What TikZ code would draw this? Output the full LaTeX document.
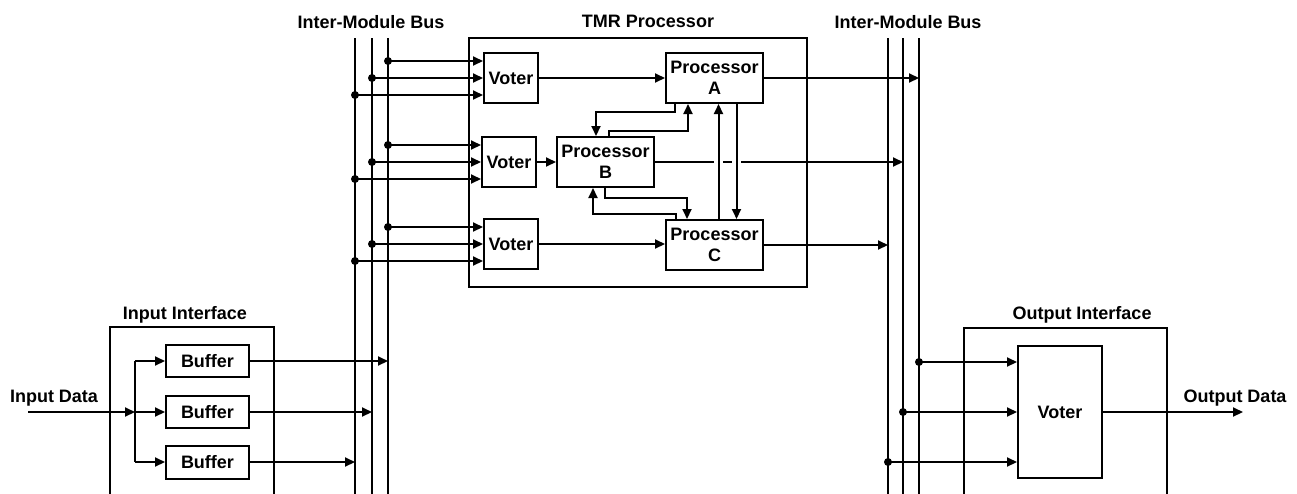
\documentclass[tikz,border=0pt]{standalone}
\usepackage{fontspec}
\setmainfont{Liberation Sans}
\usetikzlibrary{arrows.meta,calc}
\begin{document}
\begin{tikzpicture}[x=1pt,y=-1pt,
  lw/.style={line width=2pt},
  arr/.style={lw,-{Triangle[length=10pt,width=9pt]}},
  blk/.style={draw,lw,inner sep=0pt,align=center,font=\bfseries\fontsize{18}{21}\selectfont},
  lbl/.style={font=\bfseries\fontsize{18}{21}\selectfont,anchor=base,inner sep=0pt},
  frame/.style={draw,lw,inner sep=0pt,anchor=north west}
]
\clip (0,0) rectangle (1297,493);
\fill[white] (0,0) rectangle (1297,493);

% containers
\node[frame,minimum width=338pt,minimum height=249pt] (TMR) at (468,37) {};
\node[frame,minimum width=164pt,minimum height=190pt] (II) at (109,326) {};
\node[frame,minimum width=203pt,minimum height=190pt] (OI) at (963,327) {};

% labels
\node[lbl] (lb1) at (371,28) {Inter-Module Bus};
\node[lbl] (lb2) at (908,28) {Inter-Module Bus};
\node[lbl] (lt) at (648,27) {TMR Processor};
\node[lbl] (li) at (185,319) {Input Interface};
\node[lbl] (lo) at (1082,319) {Output Interface};
\node[lbl] (lid) at (54,402) {Input Data};
\node[lbl] (lod) at (1235,402) {Output Data};

% buses
\coordinate (bl1) at (355,38); \coordinate (bl2) at (372,38); \coordinate (bl3) at (388,38);
\coordinate (br1) at (888,38); \coordinate (br2) at (903,38); \coordinate (br3) at (919,38);
\coordinate (bot) at (0,500);
\foreach \b in {bl1,bl2,bl3,br1,br2,br3} \draw[lw] (\b) -- (\b |- bot);

% voters and processors
\node[blk,minimum width=54pt,minimum height=50pt] (V1) at (511,78) {Voter};
\node[blk,minimum width=54pt,minimum height=50pt] (V2) at (509,162) {Voter};
\node[blk,minimum width=54pt,minimum height=50pt] (V3) at (511,244) {Voter};
\node[blk,minimum width=97pt,minimum height=50pt] (A) at (714.5,78) {Processor\\A};
\node[blk,minimum width=97pt,minimum height=50pt] (B) at (605.5,162) {Processor\\B};
\node[blk,minimum width=97pt,minimum height=50pt] (C) at (714.5,245) {Processor\\C};

% bus taps into voters
\foreach \v in {V1,V2,V3}{
  \coordinate (\v T) at ($(\v.west)+(0,-17)$);
  \coordinate (\v B) at ($(\v.west)+(0,17)$);
  \draw[arr] (bl3 |- \v T) -- (\v T);
  \draw[arr] (bl2 |- \v.west) -- (\v.west);
  \draw[arr] (bl1 |- \v B) -- (\v B);
  \fill (bl3 |- \v T) circle (4pt);
  \fill (bl2 |- \v.west) circle (4pt);
  \fill (bl1 |- \v B) circle (4pt);
}

% voters to processors
\draw[arr] (V1.east) -- (V1.east -| A.west);
\draw[arr] (V2.east) -- (B.west);
\draw[arr] (V3.east) -- (V3.east -| C.west);

% processor outputs to right bus
\draw[arr] (A.east) -- (A.east -| br3);
\draw[arr] (B.east) -- (B.east -| br2);
\draw[arr] (C.east) -- (C.east -| br1);

% inter-processor links
\coordinate (Aab) at ($(A.south)+(-39.5,0)$);
\coordinate (Bba) at ($(B.north)+(-9.5,0)$);
\coordinate (Bab) at ($(B.north)+(3.5,0)$);
\coordinate (Aba) at ($(A.south)+(-26.5,0)$);
\coordinate (Bbc) at ($(B.south)+(-0.5,0)$);
\coordinate (Ccb) at ($(C.north)+(-27.5,0)$);
\coordinate (Ccx) at ($(C.north)+(-38.5,0)$);
\coordinate (Bcx) at ($(B.south)+(-12.5,0)$);
\coordinate (Cca) at ($(C.north)+(4,0)$);
\coordinate (Aca) at ($(A.south)+(4,0)$);
\coordinate (Aac) at ($(A.south)+(22,0)$);
\coordinate (Cac) at ($(C.north)+(22,0)$);
\draw[arr] (Aab) -- ++(0,8) -| (Bba);
\draw[arr] (Bab) -- ++(0,-5) -| (Aba);
\draw[arr] (Bbc) -- ++(0,10) -| (Ccb);
\draw[arr] (Ccx) -- ++(0,-5) -| (Bcx);
% gaps in B output where the A/C links cross
\fill[white] ($(B.east -| Cca)+(-4.5,-2)$) rectangle ($(B.east -| Cca)+(4.5,2)$);
\fill[white] ($(B.east -| Aac)+(-4.5,-2)$) rectangle ($(B.east -| Aac)+(4.5,2)$);
\draw[arr] (Cca) -- (Aca);
\draw[arr] (Aac) -- (Cac);

% input interface
\node[blk,minimum width=83pt,minimum height=32pt] (Bf1) at (207.5,361) {Buffer};
\node[blk,minimum width=83pt,minimum height=32pt] (Bf2) at (207.5,412) {Buffer};
\node[blk,minimum width=83pt,minimum height=33pt] (Bf3) at (207.5,462) {Buffer};
\coordinate (inS) at (28,412);
\coordinate (spl) at (135,412);
\draw[arr] (inS) -- (spl);
\draw[lw] (spl |- Bf1.west) -- (spl |- Bf3.west);
\foreach \f in {Bf1,Bf2,Bf3} \draw[arr] (spl |- \f.west) -- (\f.west);
\draw[arr] (Bf1.east) -- (Bf1.east -| bl3);
\draw[arr] (Bf2.east) -- (Bf2.east -| bl2);
\draw[arr] (Bf3.east) -- (Bf3.east -| bl1);

% output interface
\node[blk,minimum width=84pt,minimum height=132pt] (OV) at (1060,412) {Voter};
\coordinate (OVT) at ($(OV.west)+(0,-50)$);
\coordinate (OVB) at ($(OV.west)+(0,50)$);
\draw[arr] (br3 |- OVT) -- (OVT);
\draw[arr] (br2 |- OV.west) -- (OV.west);
\draw[arr] (br1 |- OVB) -- (OVB);
\fill (br3 |- OVT) circle (4pt);
\fill (br2 |- OV.west) circle (4pt);
\fill (br1 |- OVB) circle (4pt);
\coordinate (outE) at (1243,412);
\draw[arr] (OV.east) -- (outE);
\end{tikzpicture}
\end{document}
